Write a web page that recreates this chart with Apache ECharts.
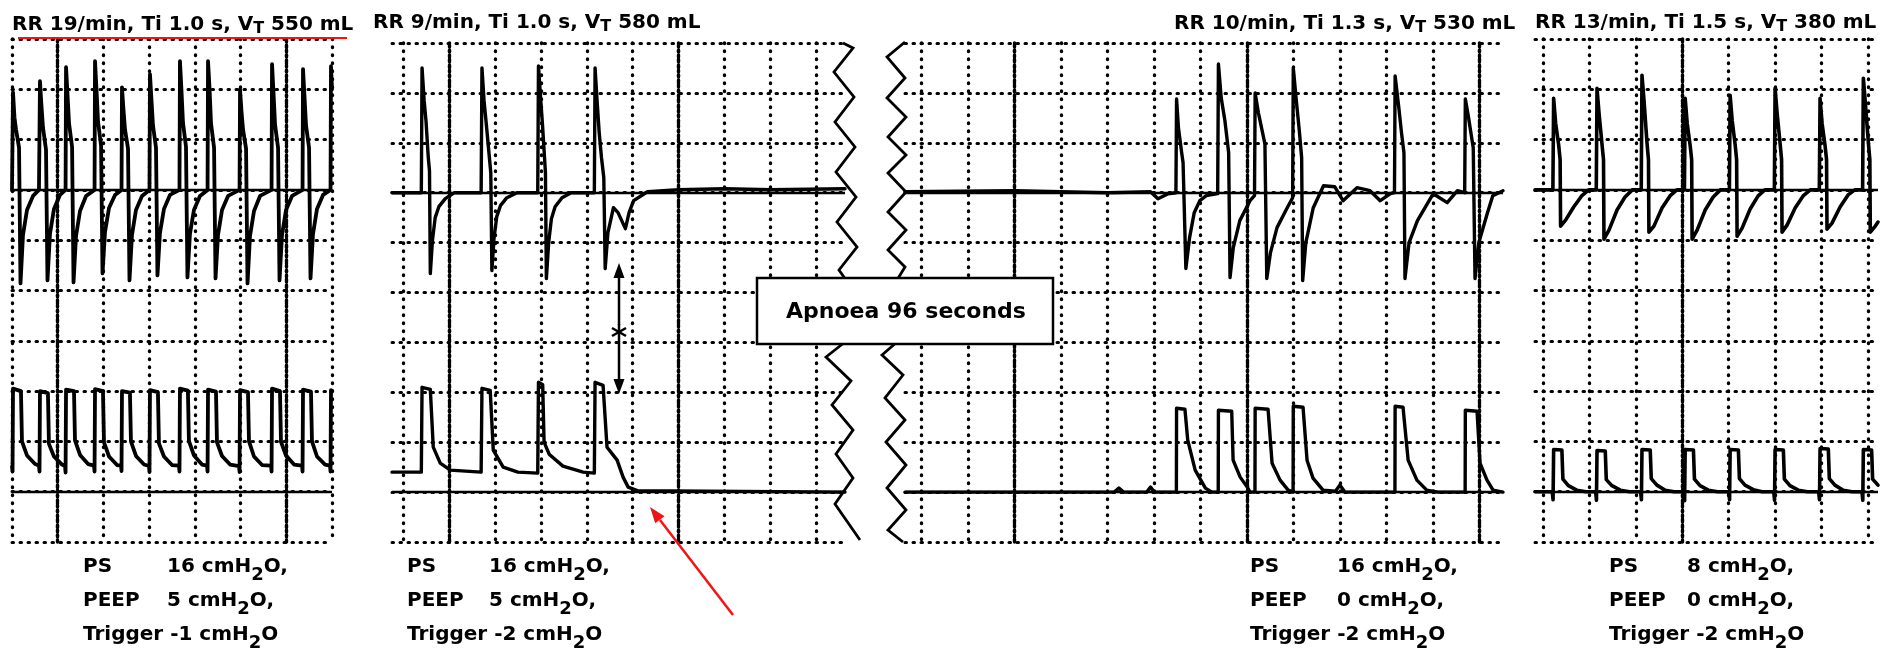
<!DOCTYPE html>
<html>
<head>
<meta charset="utf-8">
<script src="https://cdn.jsdelivr.net/npm/echarts@6/dist/echarts.min.js"></script>
<style>
  html, body { margin: 0; padding: 0; background: #fff; }
  #chart { width: 1891px; height: 652px; }
</style>
</head>
<body>
<div id="chart"></div>
<script>
// Ventilator recordings: time in s, flow in L/s, airway pressure in cmH2O.
// Four strips: PS 16/PEEP 5, PS 16/PEEP 5 with apnoea, PS 16/PEEP 0, PS 8/PEEP 0.

const flowA = [
  [0,0],[0.11,0.97],[0.27,0.72],[0.44,0.6],[0.77,0.42],[0.93,-0.93],[1.2,-0.45],[1.64,-0.2],[2.3,-0.06],[2.95,0],
  [3.01,0],[3.06,1.08],[3.22,0.84],[3.39,0.62],[3.72,0.4],[3.88,-0.9],[4.15,-0.44],[4.59,-0.19],[5.25,-0.05],[5.86,0],
  [5.91,1.22],[6.07,0.95],[6.24,0.66],[6.57,0.43],[6.73,-0.92],[7.0,-0.46],[7.44,-0.21],[8.1,-0.06],[9.03,0],
  [9.08,1.28],[9.24,1.0],[9.41,0.68],[9.74,0.44],[9.9,-0.83],[10.17,-0.42],[10.61,-0.18],[11.27,-0.05],[11.98,0],
  [12.03,1.02],[12.19,0.8],[12.36,0.6],[12.69,0.41],[12.85,-0.9],[13.12,-0.45],[13.56,-0.2],[14.22,-0.06],[15.04,0],
  [15.09,1.15],[15.25,0.9],[15.42,0.64],[15.75,0.42],[15.91,-0.85],[16.18,-0.43],[16.62,-0.19],[17.28,-0.05],[18.32,0],
  [18.37,1.28],[18.53,1.0],[18.7,0.67],[19.03,0.43],[19.19,-0.87],[19.46,-0.44],[19.9,-0.2],[20.56,-0.06],[21.39,0],
  [21.44,1.28],[21.6,1.02],[21.77,0.66],[22.1,0.42],[22.26,-0.88],[22.53,-0.45],[22.97,-0.2],[23.63,-0.06],[24.89,0],
  [24.94,1.0],[25.1,0.78],[25.27,0.6],[25.6,0.41],[25.76,-0.93],[26.03,-0.46],[26.47,-0.21],[27.13,-0.06],[28.39,0],
  [28.44,1.25],[28.6,0.97],[28.77,0.65],[29.1,0.42],[29.26,-0.9],[29.53,-0.45],[29.97,-0.2],[30.63,-0.06],[31.78,0],
  [31.83,1.2],[31.99,0.93],[32.16,0.64],[32.49,0.42],[32.65,-0.88],[32.92,-0.44],[33.36,-0.19],[34.02,-0.05],[34.84,0],
  [34.89,1.23],[35,1.0]
];
const pressA = [
  [0,5],[0.06,4],[0.11,20.5],[0.98,20],[1.09,10],[1.64,7.2],[2.52,5.5],[2.95,5.2],[3.01,4],
  [3.06,20],[3.93,19.6],[4.04,9.5],[4.59,7],[5.47,5.4],[5.8,5.1],[5.86,3.8],
  [5.91,20.3],[6.78,20],[6.89,10.2],[7.44,7.3],[8.32,5.5],[8.97,5.2],[9.03,4],
  [9.08,20.4],[9.95,20],[10.06,9.8],[10.61,7],[11.49,5.3],[11.92,5.2],[11.98,4.1],
  [12.03,20],[12.9,19.7],[13.01,10],[13.56,7.1],[14.44,5.4],[14.98,5.1],[15.04,3.9],
  [15.09,20.2],[15.96,19.8],[16.07,9.6],[16.62,7],[17.5,5.3],[18.26,5.2],[18.32,4],
  [18.37,20.5],[19.24,20.1],[19.35,10.1],[19.9,7.2],[20.78,5.4],[21.33,5.2],[21.39,4],
  [21.44,20.3],[22.31,19.9],[22.42,9.8],[22.97,7.1],[23.85,5.4],[24.83,5.1],[24.89,3.9],
  [24.94,20.2],[25.81,19.8],[25.92,10],[26.47,7],[27.35,5.3],[28.33,5.2],[28.39,4],
  [28.44,20.5],[29.31,20],[29.42,9.9],[29.97,7.2],[30.85,5.4],[31.72,5.2],[31.78,4],
  [31.83,20.3],[32.7,19.9],[32.81,10],[33.36,7],[34.24,5.4],[34.78,5.2],[34.84,4],
  [34.89,20.2],[35,20.1]
];

const flowB = [
  [-1.2,0],[1.99,0],[2.07,1.25],[2.3,0.92],[2.5,0.72],[2.75,0.35],[2.88,0.22],[2.97,-0.81],[3.2,-0.48],[3.5,-0.25],[3.9,-0.14],[4.6,-0.06],[5.6,0],
  [8.5,0],[8.59,1.25],[8.82,0.92],[9.05,0.7],[9.35,0.4],[9.55,0.2],[9.67,-0.78],[9.9,-0.46],[10.2,-0.24],[10.6,-0.13],[11.3,-0.05],[12.4,0],
  [14.66,0],[14.74,1.27],[14.97,0.95],[15.18,0.68],[15.38,0.38],[15.5,0.2],[15.6,-0.86],[15.85,-0.5],[16.15,-0.26],[16.55,-0.14],[17.3,-0.05],[18.3,0],
  [20.82,0],[20.9,1.25],[21.12,0.92],[21.35,0.6],[21.6,0.35],[21.85,0.15],[22.0,-0.76],[22.3,-0.4],[22.9,-0.15],[23.4,-0.2],[24.2,-0.36],[24.6,-0.2],[25.1,-0.08],
  [26.6,0.01],[30,0.03],[35,0.04],[40,0.03],[48.1,0.04]
];
const pressB = [
  [-1.2,4],[1.99,4],[2.07,21],[2.97,20.6],[3.29,9],[4.05,5.8],[5.14,4.4],[8.5,4],
  [8.59,20.8],[9.49,20.4],[9.82,8.4],[10.9,5],[12.5,4],[14.66,3.8],
  [14.74,22],[15.2,21.5],[15.35,10],[15.9,7.6],[17.4,5.2],[19.6,4],[20.82,3.8],
  [20.9,22],[21.77,21.4],[22.2,9],[23.3,6.4],[23.95,3],[24.5,1],[25.5,0.3],[48.1,0]
];

const flowC = [
  [-1.8,0.01],[10,0.02],[20,0],[24.6,0.01],[25.4,-0.06],[26.5,-0.01],[27.33,0],
  [27.4,0.94],[27.6,0.65],[27.95,0.4],[28.1,0.3],[28.4,-0.76],[28.8,-0.45],[29.3,-0.2],[29.9,-0.08],[30.6,-0.03],[31.82,-0.01],
  [31.9,1.29],[32.2,0.95],[32.6,0.72],[33.0,0.4],[33.15,-0.85],[33.5,-0.55],[34.2,-0.28],[35.3,-0.08],[35.78,-0.03],
  [35.85,1.0],[36.2,0.8],[36.9,0.49],[37.1,-0.86],[37.5,-0.6],[38.2,-0.35],[39.3,-0.15],[39.88,-0.05],
  [39.95,1.25],[40.3,0.9],[40.6,0.62],[40.85,0.35],[40.96,-0.88],[41.3,-0.5],[42.1,-0.15],[43.2,0.07],[44.4,0.06],[45.3,-0.08],[46.8,0.05],[48.2,0.02],[49.3,-0.08],[50.4,-0.01],[50.83,0],
  [50.9,1.17],[51.3,0.85],[51.6,0.59],[51.85,0.4],[51.96,-0.86],[52.4,-0.5],[53.3,-0.28],[55.0,-0.01],[56.5,-0.1],[57.6,0.02],[58.38,0],
  [58.45,0.94],[58.8,0.75],[59.3,0.45],[59.49,-0.86],[59.9,-0.5],[60.8,-0.21],[61.4,-0.03],[62.5,0.02]
];
const pressC = [
  [-1.8,0],[20.7,0],[21.2,0.8],[21.7,0],[24.2,0],[24.6,1.0],[25.0,0],[27.38,0],
  [27.4,16.8],[28.3,16.6],[28.6,10.4],[29.4,4.4],[30.5,0.8],[31.2,0],[31.88,0],
  [31.9,16.4],[33.33,16.2],[33.48,6.4],[34.24,3],[35.0,1],[35.3,0],[35.83,0],
  [35.85,16.8],[37.24,16.6],[37.67,5.8],[38.53,2.4],[39.4,0.4],[39.93,0],
  [39.95,17.2],[41.0,17],[41.43,6.4],[42.07,2.8],[43.15,0.4],[44.5,0.2],[44.97,1.4],[45.5,0],[50.88,0],
  [50.9,17.2],[51.75,17],[52.3,6.4],[53.24,2.4],[54.3,0.4],[55.5,0],[58.43,0],
  [58.45,16.4],[59.71,16.2],[60.03,5.8],[60.78,2.4],[61.43,0.4],[62.5,0]
];

const flowD = [
  [-0.9,0],[1.03,0],[1.11,0.91],[1.33,0.66],[1.65,0.45],[1.81,0.3],[1.86,-0.36],[2.4,-0.3],[3.27,-0.17],[4.13,-0.06],[4.9,0],[5.71,0],
  [5.79,1.01],[6.01,0.76],[6.33,0.45],[6.49,0.3],[6.54,-0.49],[7.08,-0.4],[7.95,-0.2],[8.81,-0.07],[9.6,0],[10.56,0],
  [10.64,1.14],[10.86,0.89],[11.18,0.47],[11.34,0.3],[11.39,-0.42],[11.93,-0.36],[12.8,-0.18],[13.66,-0.06],[14.4,0],[15.22,0],
  [15.3,0.91],[15.52,0.66],[15.84,0.44],[16.0,0.3],[16.05,-0.49],[16.59,-0.4],[17.46,-0.2],[18.32,-0.07],[19.1,0],[20.07,0],
  [20.15,0.94],[20.37,0.69],[20.69,0.45],[20.85,0.3],[20.9,-0.46],[21.44,-0.38],[22.31,-0.19],[23.17,-0.06],[23.9,0],[24.92,0],
  [25.0,1.01],[25.22,0.76],[25.54,0.46],[25.7,0.3],[25.75,-0.42],[26.29,-0.35],[27.16,-0.18],[28.02,-0.06],[28.8,0],[29.77,0],
  [29.85,0.91],[30.07,0.66],[30.39,0.44],[30.55,0.3],[30.6,-0.39],[31.14,-0.33],[32.01,-0.17],[32.87,-0.05],[33.6,0],[34.44,0],
  [34.52,1.11],[34.74,0.86],[35.06,0.47],[35.22,0.3],[35.27,-0.42],[35.81,-0.36],[36.1,-0.32]
];
const pressD = [
  [-0.9,0],[0.96,0],[1.05,-1.6],[1.11,8.4],[2.0,8.3],[2.11,2.5],[2.7,1.2],[3.6,0.3],[4.6,0],[5.64,0],
  [5.73,-1.7],[5.79,8.2],[6.68,8.1],[6.79,2.4],[7.4,1.2],[8.3,0.3],[9.3,0],[10.49,0],
  [10.58,-1.6],[10.64,8.4],[11.53,8.3],[11.64,2.6],[12.25,1.3],[13.15,0.3],[14.1,0],[15.15,0],
  [15.24,-1.8],[15.3,8.4],[16.19,8.3],[16.3,2.5],[16.9,1.2],[17.8,0.3],[18.8,0],[20.0,0],
  [20.09,-1.6],[20.15,8.4],[21.04,8.3],[21.15,2.6],[21.75,1.3],[22.65,0.4],[23.6,0],[24.85,0],
  [24.94,-1.7],[25.0,8.4],[25.89,8.3],[26.0,2.5],[26.6,1.2],[27.5,0.3],[28.5,0],[29.7,0],
  [29.79,-1.6],[29.85,8.6],[30.74,8.5],[30.85,2.6],[31.45,1.3],[32.35,0.3],[33.3,0],[34.37,0],
  [34.46,-1.7],[34.52,8.4],[35.41,8.3],[35.52,2.5],[36.1,1.3]
];

// Time grid (5 s per division) and the heavier reference lines
const ticksA = [0, 5, 10, 15, 20, 25, 30, 35];
const ticksB = [0, 5, 10, 15, 20, 25, 30, 35, 40, 45];
const ticksC = [0, 5, 10, 15, 20, 25, 30, 35, 40, 45, 50, 55, 60];
const ticksD = [0, 5, 10, 15, 20, 25, 30, 35];
const majorA = [5, 30];
const majorB = [5, 30];
const majorC = [10, 35, 60];
const majorD = [15];

// Breathing pattern and ventilator settings per strip
const rates = [19, 9, 10, 13];
const inspTimes = ['1.0', '1.0', '1.3', '1.5'];
const tidalVolumes = [550, 580, 530, 380];
const psLevels = [16, 16, 16, 8];
const peepLevels = [5, 5, 0, 0];
const triggerLevels = [-1, -2, -2, -2];
const apnoeaSeconds = 96;

// ---------- layout ----------
const panels = [
  { left: 12,   top: 39, width: 320, height: 503, xMin: 0,    xMax: 35,   ticks: ticksA, major: majorA, flow: flowA, press: pressA, lw: 3.8 },
  { left: 392,  top: 43, width: 453, height: 499, xMin: -1.2, xMax: 48.1, ticks: ticksB, major: majorB, flow: flowB, press: pressB, lw: 3.4 },
  { left: 905,  top: 43, width: 598, height: 499, xMin: -1.8, xMax: 62.5, ticks: ticksC, major: majorC, flow: flowC, press: pressC, lw: 3.4 },
  { left: 1535, top: 39, width: 343, height: 503, xMin: -0.9, xMax: 36.1, ticks: ticksD, major: majorD, flow: flowD, press: pressD, lw: 3.6 }
];
const headPos = [ { left: 12, top: 13 }, { left: 373, top: 11 }, { left: 1174, top: 12 }, { left: 1535, top: 11 } ];
const notePos = [ { left: 83, kw: 84 }, { left: 407, kw: 82 }, { left: 1250, kw: 87 }, { left: 1609, kw: 78 } ];

const FONT = 'DejaVu Sans';
const vDot = { color: '#000', width: 3.4, type: [0.5, 7.5], cap: 'round' };
const hDot = { color: '#000', width: 3, type: [1.5, 6.5], cap: 'round' };
const heavy = { color: '#000', width: 3.4, type: [2, 3], cap: 'round' };
const zeroLine = { color: '#000', width: 2.4, type: 'solid' };

const grid = [], xAxis = [], yAxis = [], series = [], title = [];

panels.forEach((p, i) => {
  grid.push({ left: p.left, top: p.top, width: p.width, height: p.height, containLabel: false, outerBoundsMode: 'none' });
  xAxis.push({
    gridIndex: i, type: 'value', min: p.xMin, max: p.xMax,
    axisLine: { show: false },
    axisTick: { show: false, customValues: p.ticks },
    axisLabel: { show: false, customValues: p.ticks },
    splitLine: { show: true, lineStyle: vDot }
  });
  // flow scale: 0.5 L/s per division, zero three divisions below the top
  yAxis.push({ gridIndex: i, type: 'value', min: -3.5, max: 1.5, show: false });
  // pressure scale: 10 cmH2O per division, zero one division above the bottom
  yAxis.push({
    gridIndex: i, type: 'value', min: -10, max: 90, interval: 10,
    axisLine: { show: false }, axisTick: { show: false }, axisLabel: { show: false },
    splitLine: { show: true, lineStyle: hDot }
  });
  const trace = {
    type: 'line', xAxisIndex: i, showSymbol: false, symbol: 'none', silent: true, animation: false, z: 3,
    lineStyle: { color: '#000', width: p.lw, join: 'round', cap: 'round' }
  };
  series.push(Object.assign({}, trace, {
    name: 'flow' + i, yAxisIndex: 2 * i, data: p.flow,
    markLine: { silent: true, animation: false, symbol: ['none', 'none'], label: { show: false },
      data: [ { yAxis: 0, lineStyle: zeroLine } ] }
  }));
  series.push(Object.assign({}, trace, {
    name: 'pressure' + i, yAxisIndex: 2 * i + 1, data: p.press,
    markLine: { silent: true, animation: false, symbol: ['none', 'none'], label: { show: false },
      data: [ { yAxis: 0, lineStyle: zeroLine } ].concat(p.major.map(v => ({ xAxis: v, lineStyle: heavy }))) }
  }));
});

// headings and settings, with subscripts drawn as lowered rich-text runs
const headRich = {
  m: { fontFamily: FONT, fontWeight: 'bold', fontSize: 20, lineHeight: 24, color: '#000' },
  s: { fontFamily: FONT, fontWeight: 'bold', fontSize: 16, lineHeight: 14, verticalAlign: 'bottom', color: '#000' }
};
rates.forEach((rr, i) => {
  title.push({
    left: headPos[i].left, top: headPos[i].top, padding: 0,
    text: `{m|RR ${rr}/min, Ti ${inspTimes[i]} s, V}{s|T}{m| ${tidalVolumes[i]} mL}`,
    textStyle: { rich: headRich }
  });
});
psLevels.forEach((ps, i) => {
  const rich = {
    k: { fontFamily: FONT, fontWeight: 'bold', fontSize: 20, lineHeight: 34, width: notePos[i].kw, color: '#000' },
    m: { fontFamily: FONT, fontWeight: 'bold', fontSize: 20, lineHeight: 34, color: '#000' },
    s: { fontFamily: FONT, fontWeight: 'bold', fontSize: 18, lineHeight: 20, verticalAlign: 'bottom', color: '#000' }
  };
  title.push({
    left: notePos[i].left, top: 550, padding: 0,
    text: [
      `{k|PS}{m|${ps} cmH}{s|2}{m|O,}`,
      `{k|PEEP}{m|${peepLevels[i]} cmH}{s|2}{m|O,}`,
      `{m|Trigger ${triggerLevels[i]} cmH}{s|2}{m|O}`
    ].join('\n'),
    textStyle: { rich: rich }
  });
});

// break marks, apnoea box and arrows
const ink = { stroke: '#000', lineWidth: 2.8, fill: 'none', lineJoin: 'miter' };
const red = '#f01414';
const graphic = [
  { type: 'line', z: 60, shape: { x1: 18, y1: 38, x2: 347, y2: 38 }, style: { stroke: red, lineWidth: 2.2 } },
  { type: 'polyline', z: 50, shape: { points: [[843,43],[853,48],[834,72],[854,97],[835,122],[855,147],[836,172],[856,197],[837,222],[857,247],[839,270],[846,280]] }, style: ink },
  { type: 'polyline', z: 50, shape: { points: [[845,342],[826,357],[851,381],[832,405],[853,430],[836,454],[853,478],[835,504],[860,540]] }, style: ink },
  { type: 'polyline', z: 50, shape: { points: [[905,42],[887,57],[905,78],[887,98],[906,117],[888,137],[906,155],[888,173],[906,192],[888,212],[906,230],[888,250],[905,267],[897,280]] }, style: ink },
  { type: 'polyline', z: 50, shape: { points: [[897,342],[882,355],[903,375],[885,398],[905,420],[886,442],[906,465],[887,488],[906,510],[888,530],[903,542]] }, style: ink },
  { type: 'rect', z: 100, shape: { x: 757, y: 278, width: 296, height: 66 }, style: { fill: '#fff', stroke: '#000', lineWidth: 2.5 } },
  { type: 'text', z: 101, style: { text: `Apnoea ${apnoeaSeconds} seconds`, x: 906, y: 312, align: 'center', verticalAlign: 'middle',
      font: `bold 22px "${FONT}"`, fill: '#000' } },
  // double arrow with asterisk between the flow and pressure channels
  { type: 'line', z: 60, shape: { x1: 619, y1: 325, x2: 619, y2: 274 }, style: { stroke: '#000', lineWidth: 2.5 } },
  { type: 'polygon', z: 60, shape: { points: [[619,263],[613.5,278],[624.5,278]] }, style: { fill: '#000' } },
  { type: 'line', z: 60, shape: { x1: 619, y1: 324, x2: 619, y2: 340 }, style: { stroke: '#000', lineWidth: 2.5 } },
  { type: 'line', z: 60, shape: { x1: 612, y1: 328, x2: 626, y2: 336 }, style: { stroke: '#000', lineWidth: 2.5 } },
  { type: 'line', z: 60, shape: { x1: 612, y1: 336, x2: 626, y2: 328 }, style: { stroke: '#000', lineWidth: 2.5 } },
  { type: 'line', z: 60, shape: { x1: 619, y1: 340, x2: 619, y2: 382 }, style: { stroke: '#000', lineWidth: 2.5 } },
  { type: 'polygon', z: 60, shape: { points: [[619,394],[613.5,379],[624.5,379]] }, style: { fill: '#000' } },
  // red pointer to the flat pressure trace
  { type: 'line', z: 60, shape: { x1: 733, y1: 615, x2: 660, y2: 520 }, style: { stroke: red, lineWidth: 2.5 } },
  { type: 'polygon', z: 60, shape: { points: [[650,507],[664.5,516.2],[655.2,523.3]] }, style: { fill: red } }
];

const chart = echarts.init(document.getElementById('chart'), null, { renderer: 'canvas' });
chart.setOption({
  backgroundColor: '#fff',
  animation: false,
  title: title,
  grid: grid,
  xAxis: xAxis,
  yAxis: yAxis,
  series: series,
  graphic: graphic
});
</script>
</body>
</html>
